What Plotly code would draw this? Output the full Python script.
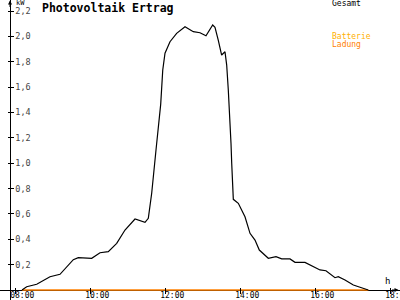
import plotly.graph_objects as go

# --- data ---------------------------------------------------------------
time_h = [8.187, 8.312, 8.579, 8.933, 9.2, 9.555, 9.688, 9.912, 10.045, 10.267,
          10.488, 10.712, 10.933, 11.2, 11.467, 11.555, 11.645, 11.76, 11.885,
          11.94, 12.0, 12.133, 12.31, 12.533, 12.755, 12.933, 13.093, 13.272,
          13.333, 13.42, 13.51, 13.6, 13.645, 13.688, 13.733, 13.76, 13.779,
          13.822, 13.955, 14.133, 14.267, 14.4, 14.515, 14.755, 14.96, 15.112,
          15.333, 15.467, 15.733, 16.0, 16.133, 16.293, 16.533, 16.621, 16.8,
          17.022, 17.245, 17.421]
gesamt_kw = [0.0, 0.026, 0.045, 0.105, 0.124, 0.239, 0.255, 0.255, 0.25, 0.294,
             0.302, 0.368, 0.473, 0.56, 0.534, 0.565, 0.763, 1.104, 1.464,
             1.735, 1.867, 1.958, 2.024, 2.076, 2.037, 2.029, 2.005, 2.09,
             2.072, 1.971, 1.853, 1.879, 1.774, 1.577, 1.367, 1.157, 0.999,
             0.715, 0.684, 0.578, 0.447, 0.394, 0.315, 0.25, 0.263, 0.245,
             0.245, 0.218, 0.218, 0.179, 0.158, 0.152, 0.097, 0.105, 0.079,
             0.039, 0.018, 0.0]
ladung_time = [8.187, 17.421]
ladung_kw = [0.0, 0.0]

x_tickvals = [8, 10, 12, 14, 16, 18]
x_ticktext = ["08:00", "10:00", "12:00", "14:00", "16:00", "18:00"]
y_tickvals = [0.2, 0.4, 0.6, 0.8, 1.0, 1.2, 1.4, 1.6, 1.8, 2.0, 2.2]
y_ticktext = ["0,2", "0,4", "0,6", "0,8", "1,0", "1,2", "1,4", "1,6", "1,8", "2,0", "2,2"]

title = "Photovoltaik Ertrag"
legend_labels = ["Gesamt", "Batterie", "Ladung"]
legend_colors = ["#000000", "#FFB000", "#FF8000"]

# --- geometry (pixel mapping of the 400x300 canvas) ---------------------
W, H = 400, 300
X0_PX, PX_PER_H = 15, 37.5          # 08:00 at x=15, 37.5 px per hour
Y0_PX, PX_PER_KW = 290, 126.8       # 0 kW at y=290
t_left = 8 - X0_PX / PX_PER_H
t_right = 8 + (W - X0_PX) / PX_PER_H
v_top = Y0_PX / PX_PER_KW
v_bottom = (Y0_PX - H) / PX_PER_KW
FONT = "DejaVu Sans Mono"
NBSP = "\u00a0"
# labels in the original start just left of their tick (not centred)
x_ticktext_shifted = [NBSP * 3 + s for s in x_ticktext]

fig = go.Figure()
fig.add_trace(go.Scatter(x=ladung_time, y=ladung_kw, mode="lines",
                         line=dict(color=legend_colors[2], width=1.5),
                         showlegend=False, hoverinfo="skip"))
fig.add_trace(go.Scatter(x=time_h, y=gesamt_kw, mode="lines",
                         line=dict(color="#000000", width=1.2),
                         showlegend=False, hoverinfo="skip"))

fig.update_layout(
    width=W, height=H, autosize=False,
    margin=dict(l=0, r=0, t=0, b=0, pad=0, autoexpand=False),
    paper_bgcolor="white", plot_bgcolor="white",
    font=dict(family=FONT, size=8, color="black"),
    showlegend=False,
    xaxis=dict(range=[t_left, t_right], anchor="free",
               position=(H - 287) / H, automargin=False,
               showline=False, showgrid=False, zeroline=False,
               ticks="outside", ticklen=6, tickcolor="black", tickwidth=1,
               tickvals=x_tickvals, ticktext=x_ticktext_shifted,
               ticklabeloverflow="allow", ticklabelstandoff=-6,
               tickfont=dict(family=FONT, size=8)),
    yaxis=dict(range=[v_bottom, v_top], anchor="free",
               position=10 / W, automargin=False,
               showline=True, linecolor="black", linewidth=1,
               showgrid=False,
               zeroline=True, zerolinecolor="black", zerolinewidth=1,
               ticks="inside", ticklen=3, tickcolor="black",
               ticklabelposition="inside", ticklabeloverflow="allow",
               tickvals=y_tickvals, ticktext=y_ticktext,
               tickfont=dict(family=FONT, size=8.5)),
    yaxis2=dict(range=[v_bottom, v_top], overlaying="y", anchor="free",
                position=10 / W, side="left", automargin=False,
                showline=False, showgrid=False, zeroline=False,
                ticks="outside", ticklen=2, tickcolor="black",
                tickvals=y_tickvals, showticklabels=False),
)
# invisible trace to activate yaxis2 ticks
fig.add_trace(go.Scatter(x=[t_left], y=[0], yaxis="y2", mode="markers",
                         marker=dict(size=0.1, opacity=0), showlegend=False,
                         hoverinfo="skip"))

annotations = [
    dict(text="<b>" + title + "</b>", xref="paper", yref="paper",
         x=40 / W, y=1 - 8 / H, xanchor="left", yanchor="middle",
         showarrow=False, font=dict(family=FONT, size=11.5, color="black")),
    dict(text="kW", xref="paper", yref="paper", x=14 / W, y=1 - 3 / H,
         xanchor="left", yanchor="middle", showarrow=False,
         font=dict(family=FONT, size=7, color="black")),
    dict(text="h", xref="paper", yref="paper", x=387 / W, y=1 - 281 / H,
         xanchor="center", yanchor="middle", showarrow=False,
         font=dict(family=FONT, size=9, color="black")),
    # axis arrows
    dict(x=t_left + 10 / PX_PER_H, y=v_top - 0.5 / PX_PER_KW, xref="x", yref="y",
         ax=0, ay=8, text="", showarrow=True, arrowhead=2, arrowsize=0.8,
         arrowwidth=1, arrowcolor="black"),
    dict(x=t_right - 1.5 / PX_PER_H, y=0, xref="x", yref="y",
         ax=-8, ay=0, text="", showarrow=True, arrowhead=2, arrowsize=0.8,
         arrowwidth=1, arrowcolor="black"),
]
legend_y_px = [4, 36, 44]
for lab, col, ypx in zip(legend_labels, legend_colors, legend_y_px):
    annotations.append(dict(text=lab, xref="paper", yref="paper",
                            x=330 / W, y=1 - ypx / H, xanchor="left",
                            yanchor="middle", showarrow=False,
                            font=dict(family=FONT, size=8, color=col)))
fig.update_layout(annotations=annotations)

fig.write_html("out.html")
